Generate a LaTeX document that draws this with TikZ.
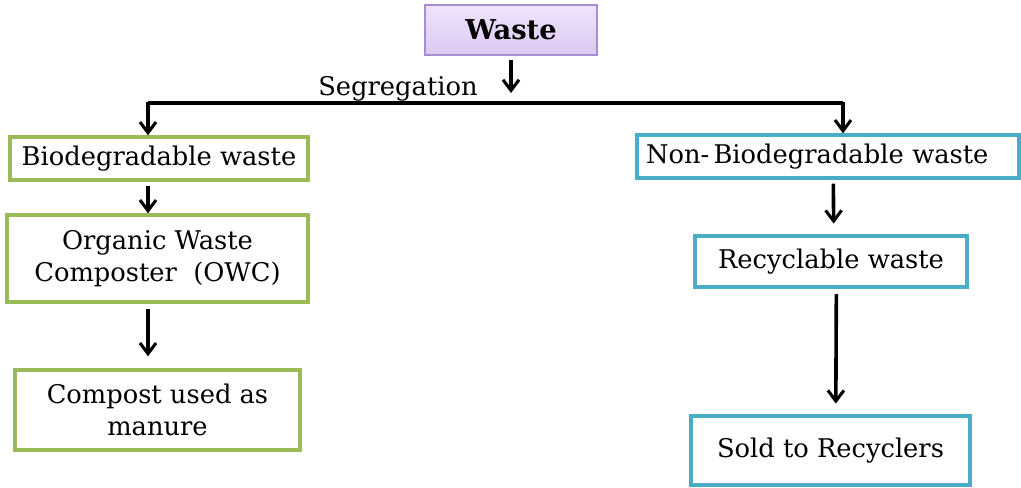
\documentclass[tikz,border=0pt]{standalone}
\usepackage{fontspec}
\setmainfont{DejaVu Serif}
\usetikzlibrary{arrows.meta}
\definecolor{gborder}{HTML}{9BBB59}
\definecolor{bborder}{HTML}{4BACC6}
\definecolor{pborder}{HTML}{A68ED0}
\definecolor{ptop}{HTML}{EFE4FB}
\definecolor{pbot}{HTML}{DCC8F2}
\tikzset{
  box/.style={draw, line width=2.6pt, fill=white, inner sep=2pt, align=center,
    font=\fontsize{19.3}{24.5}\selectfont},
  gbox/.style={box, draw=gborder},
  bbox/.style={box, draw=bborder},
  pbox/.style={draw=pborder, line width=1.6pt, top color=ptop, bottom color=pbot, font=\bfseries\fontsize{20.5}{24}\selectfont},
  arr/.style={line width=2.7pt, -{Straight Barb[length=8pt,width=12pt,line width=2.3pt]}},
  conn/.style={line width=3pt}
}
\begin{document}
\begin{tikzpicture}[x=0.75pt,y=-0.75pt]
\useasboundingbox (0,0) rectangle (1021,487);
\fill[white] (0,0) rectangle (1021,487);

\node[pbox, minimum width=129pt, minimum height=37.5pt] (waste) at (511,30) {Waste};
\coordinate (segtip) at (511,93);
\node[font=\fontsize{19.3}{22}\selectfont, anchor=base] (seg) at (398,95) {Segregation};
\coordinate (hl) at (148,103);
\coordinate (hr) at (843,103);

\node[gbox, minimum width=223.5pt, minimum height=32.25pt] (bio) at (159,158.5) {Biodegradable waste};
\node[gbox, minimum width=225.75pt, minimum height=65.25pt] (owc) at (157.5,258.5) {Organic Waste\\Composter\ \ (OWC)};
\node[gbox, minimum width=213.75pt, minimum height=60pt] (comp) at (157.5,410) {Compost used as\\manure};

\node[bbox, minimum width=286.5pt, minimum height=32.25pt, text width=273pt, align=left] (nbio) at (828,156.5) {Non-\,Biodegradable waste};
\node[bbox, minimum width=204pt, minimum height=38.25pt] (recy) at (831,261.5) {Recyclable waste};
\node[bbox, minimum width=209.25pt, minimum height=51.75pt] (sold) at (830.5,450.5) {Sold to Recyclers};

\draw[arr] (waste.south -| segtip) ++(0,4) -- (segtip);
\draw[conn] (hl) -- (hr);
\draw[arr] ([yshift=1pt]hl) -- (bio.north -| hl);
\draw[arr] ([yshift=1pt]hr) -- (nbio.north -| hr);
\draw[arr] ([yshift=-3pt]bio.south -| hl) -- (owc.north -| hl);
\draw[arr] ([yshift=-4pt]owc.south -| hl) -- ([yshift=9pt]comp.north -| hl);
\draw[arr] ([xshift=4pt,yshift=-3pt]nbio.south) -- ([xshift=2pt,yshift=8pt]recy.north);
\draw[arr] ([xshift=4pt,yshift=-4pt]recy.south) -- ([xshift=4pt,yshift=8pt]sold.north);
\end{tikzpicture}
\end{document}
